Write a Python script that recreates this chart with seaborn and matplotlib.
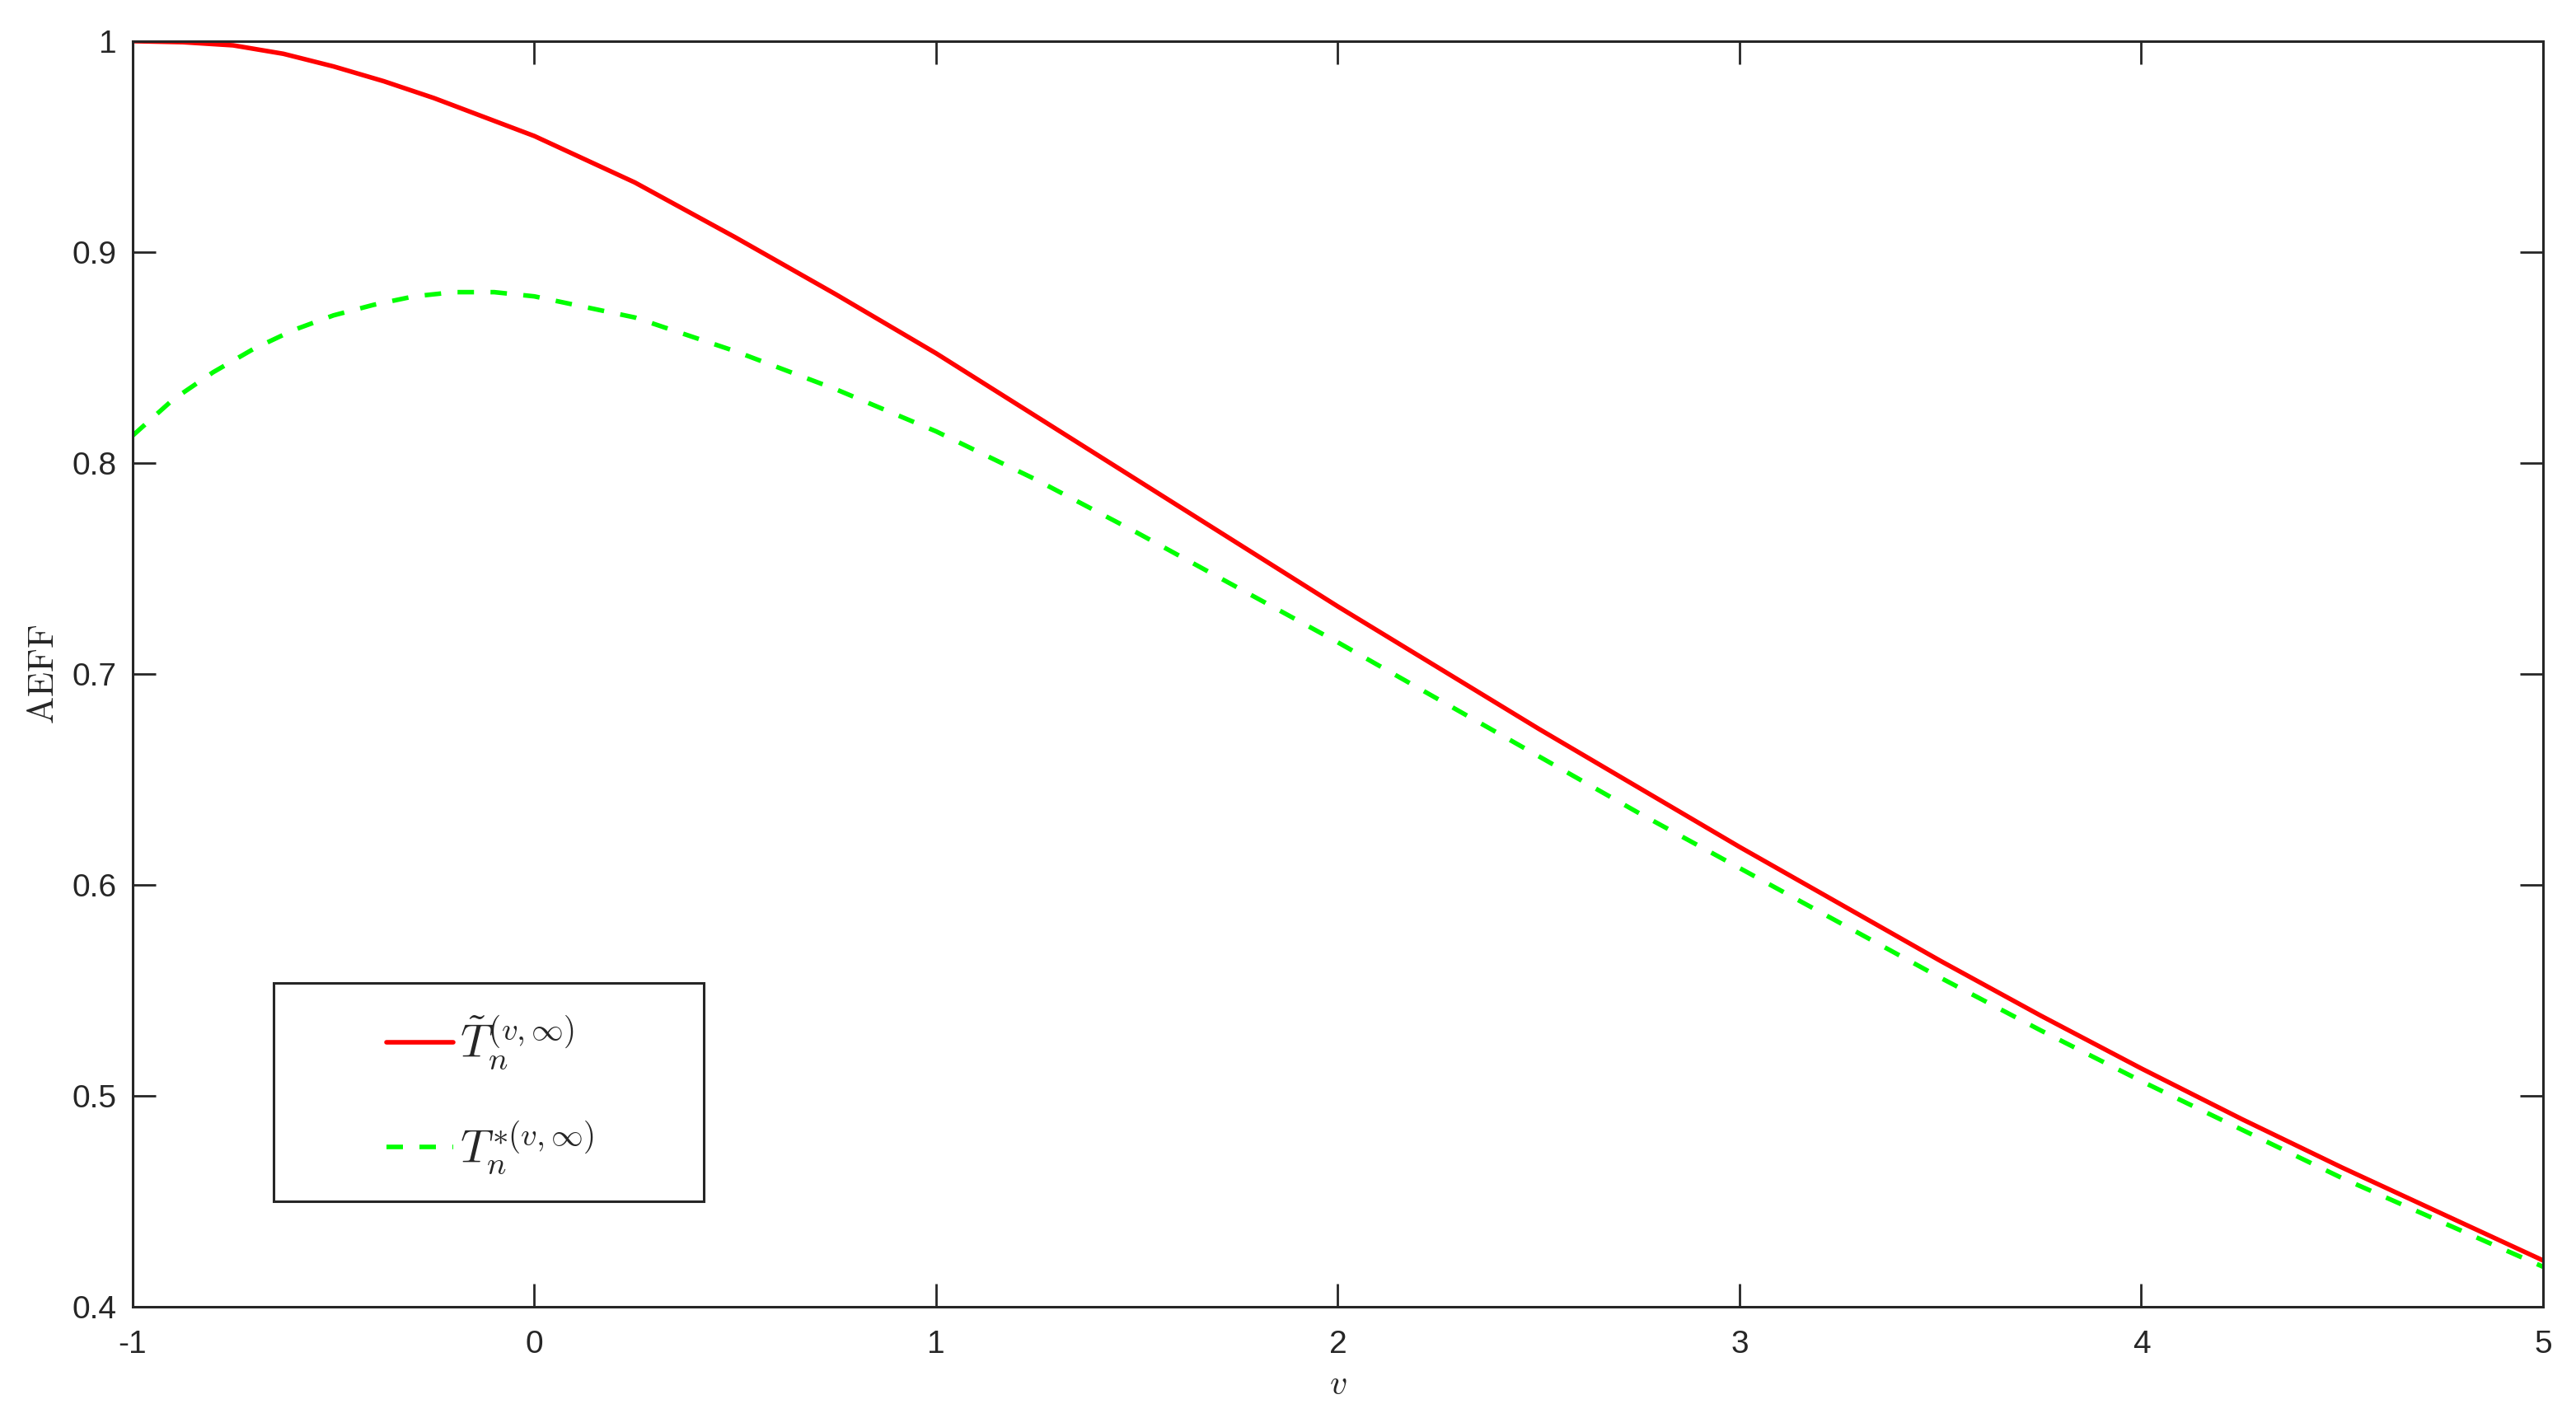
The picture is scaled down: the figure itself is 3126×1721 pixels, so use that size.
import matplotlib
matplotlib.use("Agg")
import matplotlib.pyplot as plt
from matplotlib.patches import Rectangle
import pandas as pd
import seaborn as sns

# values
v_red = [-1, -0.875, -0.75, -0.625, -0.5, -0.375, -0.25, -0.125, 0, 0.25,
         0.5, 0.75, 1, 1.25, 1.5, 1.75, 2, 2.25, 2.5, 2.75, 3, 3.25, 3.5,
         3.75, 4, 4.25, 4.5, 4.75, 5]
aeff_red = [1.000, 0.9995, 0.998, 0.994, 0.988, 0.981, 0.973, 0.964, 0.955,
            0.933, 0.907, 0.880, 0.852, 0.822, 0.792, 0.762, 0.732, 0.703,
            0.674, 0.646, 0.618, 0.591, 0.564, 0.538, 0.513, 0.489, 0.466,
            0.444, 0.422]

v_green = [-1, -0.9, -0.8, -0.7, -0.6, -0.5, -0.4, -0.3, -0.2, -0.1, 0, 0.25,
           0.5, 0.75, 1, 1.25, 1.5, 1.75, 2, 2.25, 2.5, 2.75, 3, 3.25, 3.5,
           3.75, 4, 4.25, 4.5, 4.75, 5]
aeff_green = [0.813, 0.830, 0.843, 0.854, 0.863, 0.870, 0.875, 0.879, 0.881,
              0.881, 0.879, 0.869, 0.853, 0.835, 0.815, 0.792, 0.767, 0.741,
              0.715, 0.688, 0.661, 0.634, 0.608, 0.582, 0.556, 0.531, 0.507,
              0.484, 0.461, 0.440, 0.419]

x_ticks = [-1, 0, 1, 2, 3, 4, 5]
y_ticks = [0.4, 0.5, 0.6, 0.7, 0.8, 0.9, 1.0]
y_tick_labels = ["0.4", "0.5", "0.6", "0.7", "0.8", "0.9", "1"]
labels = [r"$\tilde{T}_n^{(v,\infty)}$", r"$T_n^{*(v,\infty)}$"]

sns.set_style("white")
plt.rcParams["font.family"] = ["Liberation Sans", "DejaVu Sans"]
plt.rcParams["mathtext.fontset"] = "cm"
plt.rcParams["axes.unicode_minus"] = False

df_red = pd.DataFrame({"v": v_red, "aeff": aeff_red})
df_green = pd.DataFrame({"v": v_green, "aeff": aeff_green})

fig = plt.figure(figsize=(15.63, 8.605), dpi=200)
ax = fig.add_axes([0.0515, 0.0784, 0.9357, 0.8926])

sns.lineplot(data=df_red, x="v", y="aeff", ax=ax, color="#ff0000",
             linewidth=2.0, label=labels[0])
sns.lineplot(data=df_green, x="v", y="aeff", ax=ax, color="#00ff00",
             linewidth=2.0, linestyle=(0, (3.6, 3.6)), label=labels[1])

ax.set_xlim(-1, 5)
ax.set_ylim(0.4, 1.0)
ax.set_xticks(x_ticks)
ax.set_xticklabels([str(t) for t in x_ticks])
ax.set_yticks(y_ticks)
ax.set_yticklabels(y_tick_labels)

for s in ax.spines.values():
    s.set_visible(True)
    s.set_color("#262626")
    s.set_linewidth(1.1)

ax.tick_params(direction="in", length=10, width=1.0, color="#262626",
               labelcolor="#262626", labelsize=14, top=True, right=True,
               bottom=True, left=True)
ax.tick_params(axis="x", pad=10)
ax.tick_params(axis="y", pad=7)

ax.set_xlabel(r"$v$", fontsize=15, color="#262626", labelpad=4)
ax.set_ylabel(r"$\mathrm{AEFF}$", fontsize=16, color="#262626", labelpad=5)

leg = ax.legend(loc="center left", bbox_to_anchor=(0.1053, 0.167),
                frameon=False, fontsize=20, handlelength=1.45,
                handletextpad=0.15, labelspacing=1.05, borderpad=0,
                borderaxespad=0)
ax.add_patch(Rectangle((0.0585, 0.0833), 0.1785, 0.1727,
                       transform=ax.transAxes, fill=False,
                       edgecolor="#262626", linewidth=1.1, zorder=5))

fig.savefig("out.png", dpi=200, facecolor="white")
